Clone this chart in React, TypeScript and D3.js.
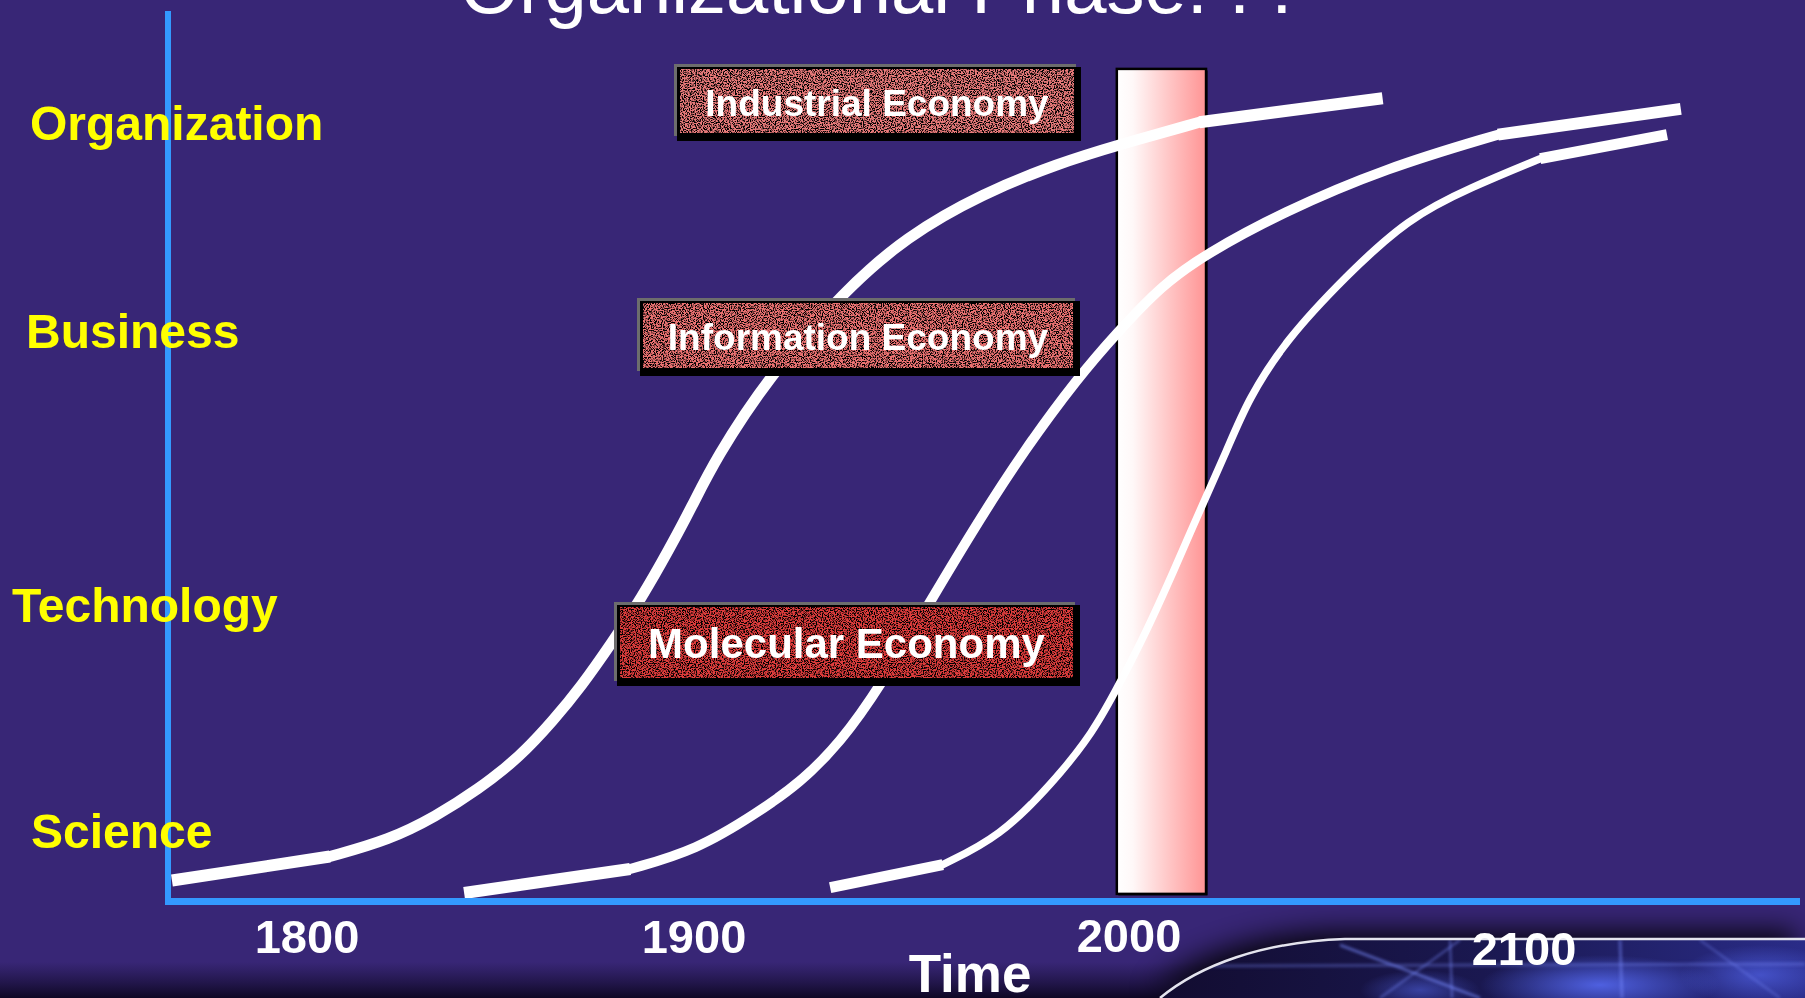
import React from "react";
import * as d3 from "d3";

// ---------- data ----------
const tickYears = [1800, 1900, 2000, 2100];
const tickLabels = ["1800", "1900", "2000", "2100"];
const levelNames = ["Science", "Technology", "Business", "Organization"];
const levelValues = [6.0, 31.4, 62.2, 85.6];

const industrialStart = [[1765.1, 2.3], [1805.9, 5.0]];
const industrialRise = [[1805.9, 5.0], [1821.4, 6.9], [1833.2, 9.5], [1844.1, 12.5], [1855.0, 16.2], [1863.8, 20.4], [1870.8, 24.1], [1878.7, 29.0], [1886.6, 34.2], [1893.5, 39.5], [1899.5, 44.4], [1904.8, 49.6], [1917.1, 59.0], [1934.7, 68.7], [1948.7, 74.7], [1966.4, 79.6], [1983.9, 83.0], [1997.2, 85.0], [2017.8, 87.6]];
const industrialEnd = [[2017.8, 87.6], [2064.2, 90.3]];

const informationStart = [[1840.6, 0.9], [1883.5, 3.6]];
const informationRise = [[1883.5, 3.6], [1900.5, 5.7], [1914.5, 9.9], [1924.4, 13.3], [1933.6, 17.8], [1942.8, 24.1], [1954.9, 34.2], [1965.1, 42.5], [1975.9, 50.7], [1988.3, 58.9], [1997.2, 63.9], [2008.4, 69.3], [2019.2, 72.7], [2038.5, 77.4], [2065.3, 82.5], [2093.4, 86.2]];
const informationEnd = [[2093.4, 86.2], [2139.7, 89.1]];

const molecularStart = [[1931.3, 1.5], [1957.2, 4.1]];
const molecularRise = [[1957.2, 4.1], [1970.3, 7.2], [1982.5, 13.3], [1991.7, 18.9], [1997.9, 24.5], [2004.6, 30.5], [2011.1, 36.9], [2018.0, 44.0], [2024.8, 50.7], [2030.1, 56.4], [2039.7, 63.1], [2054.7, 70.2], [2070.6, 76.8], [2086.6, 80.3], [2104.1, 83.5]];
const molecularEnd = [[2104.1, 83.5], [2136.2, 86.2]];

const bandYears = [1997.2, 2019.5];
const bandLevels = [0.8, 93.6];

const economyLabels = ["Industrial Economy", "Information Economy", "Molecular Economy"];

// ---------- layout ----------
const W = 1805;
const H = 998;
const FONT = "'Liberation Sans', Arial, Helvetica, sans-serif";
const levelLabelX = [31, 12, 26, 30];
const tickDy = [0, 0, -1, 12];
const boxLayout = [
  { fx: 680, fy: 69, fw: 394, fh: 64, fs: 37, base: "#e87a7a", baseline: 116 },
  { fx: 643, fy: 303, fw: 430, fh: 65, fs: 37, base: "#ec7272", baseline: 350 },
  { fx: 620, fy: 607, fw: 453, fh: 71, fs: 42, base: "#de3c3c", baseline: 658 },
];

export default function App() {
  const x = d3.scaleLinear().domain([1800, 1900, 2000, 2100]).range([307, 694, 1129, 1524]);
  const y = d3.scaleLinear().domain([0, 100]).range([901, 12]);

  const straight = d3.line<number[]>().x((d) => x(d[0])).y((d) => y(d[1]));
  const smooth = d3
    .line<number[]>()
    .x((d) => x(d[0]))
    .y((d) => y(d[1]))
    .curve(d3.curveBasis);

  const curves = [
    { s: industrialStart, r: industrialRise, e: industrialEnd, ws: 12, wr: 11 },
    { s: informationStart, r: informationRise, e: informationEnd, ws: 12, wr: 10 },
    { s: molecularStart, r: molecularRise, e: molecularEnd, ws: 11, wr: 7.5 },
  ];

  const bx0 = x(bandYears[0]);
  const bx1 = x(bandYears[1]);
  const by0 = y(bandLevels[1]);
  const by1 = y(bandLevels[0]);

  const decoPath = "M1160,998 C1200,965 1262,942 1345,939 L1805,939 L1805,998 Z";
  const decoLine = "M1160,998 C1200,965 1262,942 1345,939 L1805,939";

  return (
    <svg
      width={W}
      height={H}
      viewBox={`0 0 ${W} ${H}`}
      style={{ position: "absolute", left: 0, top: 0, display: "block" }}
    >
      <defs>
        <linearGradient id="band" x1="0" y1="0" x2="1" y2="0">
          <stop offset="0" stopColor="#ffffff" />
          <stop offset="0.18" stopColor="#fff8f8" />
          <stop offset="0.6" stopColor="#ffc4c4" />
          <stop offset="1" stopColor="#ff9494" />
        </linearGradient>
        <linearGradient id="bottomFade" x1="0" y1="0" x2="0" y2="1">
          <stop offset="0" stopColor="#140c30" stopOpacity="0" />
          <stop offset="1" stopColor="#0c0620" stopOpacity="0.95" />
        </linearGradient>
        <linearGradient id="decoFill" x1="0" y1="0" x2="1" y2="0">
          <stop offset="0" stopColor="#120c30" />
          <stop offset="0.5" stopColor="#1a1850" />
          <stop offset="1" stopColor="#2a2c88" />
        </linearGradient>
        <radialGradient id="glow">
          <stop offset="0" stopColor="#5a70ff" stopOpacity="0.8" />
          <stop offset="1" stopColor="#5a70ff" stopOpacity="0" />
        </radialGradient>
        <clipPath id="decoClip">
          <path d={decoPath} />
        </clipPath>
        <filter id="halo" x="-20%" y="-100%" width="140%" height="300%">
          <feGaussianBlur stdDeviation="14" />
        </filter>
        <filter id="soft" x="-10%" y="-10%" width="120%" height="120%">
          <feGaussianBlur stdDeviation="1.4" />
        </filter>
        <filter id="speckle" x="0" y="0" width="1" height="1">
          <feTurbulence type="fractalNoise" baseFrequency="0.85" numOctaves="2" seed="5" result="n" />
          <feColorMatrix
            in="n"
            type="matrix"
            values="0 0 0 0 0  0 0 0 0 0  0 0 0 0 0  6 0 0 0 -2.75"
            result="a"
          />
          <feComposite in="a" in2="SourceAlpha" operator="in" />
        </filter>
      </defs>

      {/* background */}
      <rect x={0} y={0} width={W} height={H} fill="#382676" />

      {/* title (cut off at top) */}
      <text x={460} y={13} fill="#ffffff" fontFamily={FONT} fontSize={76}>
        Organizational Phase: : :
      </text>

      {/* bottom decoration */}
      <rect x={0} y={962} width={W} height={36} fill="url(#bottomFade)" />
      <path d={decoPath} fill="#000000" opacity={0.9} filter="url(#halo)" transform="translate(-10,-8)" />
      <path d={decoPath} fill="url(#decoFill)" />
      <g clipPath="url(#decoClip)">
        <ellipse cx={1600} cy={985} rx={120} ry={30} fill="url(#glow)" />
        <ellipse cx={1760} cy={975} rx={80} ry={30} fill="url(#glow)" opacity={0.7} />
        <ellipse cx={1420} cy={990} rx={60} ry={20} fill="url(#glow)" opacity={0.6} />
        <g filter="url(#soft)" stroke="#7a8cff" fill="none">
          <line x1={1340} y1={945} x2={1480} y2={998} strokeWidth={2.5} opacity={0.6} />
          <line x1={1460} y1={940} x2={1380} y2={998} strokeWidth={2} opacity={0.5} />
          <line x1={1450} y1={940} x2={1452} y2={998} strokeWidth={2} opacity={0.5} />
          <line x1={1200} y1={966} x2={1805} y2={964} strokeWidth={3} opacity={0.35} />
          <line x1={1620} y1={940} x2={1622} y2={998} strokeWidth={3} opacity={0.45} />
          <line x1={1700} y1={940} x2={1780} y2={998} strokeWidth={2} opacity={0.4} />
        </g>
      </g>
      <path d={decoLine} fill="none" stroke="#e4e4ee" strokeWidth={2.5} />

      {/* present-day band */}
      <rect x={bx0 + 1.5} y={by0 + 1.5} width={bx1 - bx0} height={by1 - by0} fill="#000000" />
      <rect
        x={bx0}
        y={by0}
        width={bx1 - bx0}
        height={by1 - by0}
        fill="url(#band)"
        stroke="#000000"
        strokeWidth={2.5}
      />

      {/* S-curves */}
      {curves.map((c, i) => (
        <g key={i} fill="none" stroke="#ffffff">
          <path d={smooth(c.r) || ""} strokeWidth={c.wr} strokeLinecap="round" />
          <path d={straight(c.s) || ""} strokeWidth={c.ws} />
          <path d={straight(c.e) || ""} strokeWidth={c.ws} />
        </g>
      ))}

      {/* economy boxes */}
      {economyLabels.map((label, i) => {
        const b = boxLayout[i];
        return (
          <g key={label}>
            <rect x={b.fx - 6} y={b.fy - 5} width={b.fw + 8} height={b.fh + 8} fill="#6d6d6d" />
            <rect x={b.fx - 3} y={b.fy - 2} width={b.fw + 10} height={b.fh + 10} fill="#000000" />
            <rect x={b.fx} y={b.fy} width={b.fw} height={b.fh} fill={b.base} />
            <rect x={b.fx} y={b.fy} width={b.fw} height={b.fh} fill="#000000" filter="url(#speckle)" />
            <text
              x={b.fx + b.fw / 2}
              y={b.baseline}
              textAnchor="middle"
              fill="#ffffff"
              fontFamily={FONT}
              fontWeight="bold"
              fontSize={b.fs}
            >
              {label}
            </text>
          </g>
        );
      })}

      {/* axes */}
      <rect x={165} y={11} width={6} height={894} fill="#3399ff" />
      <rect x={165} y={898} width={1635} height={7} fill="#3399ff" />

      {/* level labels */}
      {levelNames.map((name, i) => (
        <text
          key={name}
          x={levelLabelX[i]}
          y={y(levelValues[i])}
          fill="#ffff00"
          fontFamily={FONT}
          fontWeight="bold"
          fontSize={48}
        >
          {name}
        </text>
      ))}

      {/* year ticks */}
      {tickYears.map((yr, i) => (
        <text
          key={yr}
          x={x(yr)}
          y={953 + tickDy[i]}
          textAnchor="middle"
          fill="#ffffff"
          fontFamily={FONT}
          fontWeight="bold"
          fontSize={47}
        >
          {tickLabels[i]}
        </text>
      ))}
      <text x={970} y={992} textAnchor="middle" fill="#ffffff" fontFamily={FONT} fontWeight="bold" fontSize={53}>
        Time
      </text>
    </svg>
  );
}
